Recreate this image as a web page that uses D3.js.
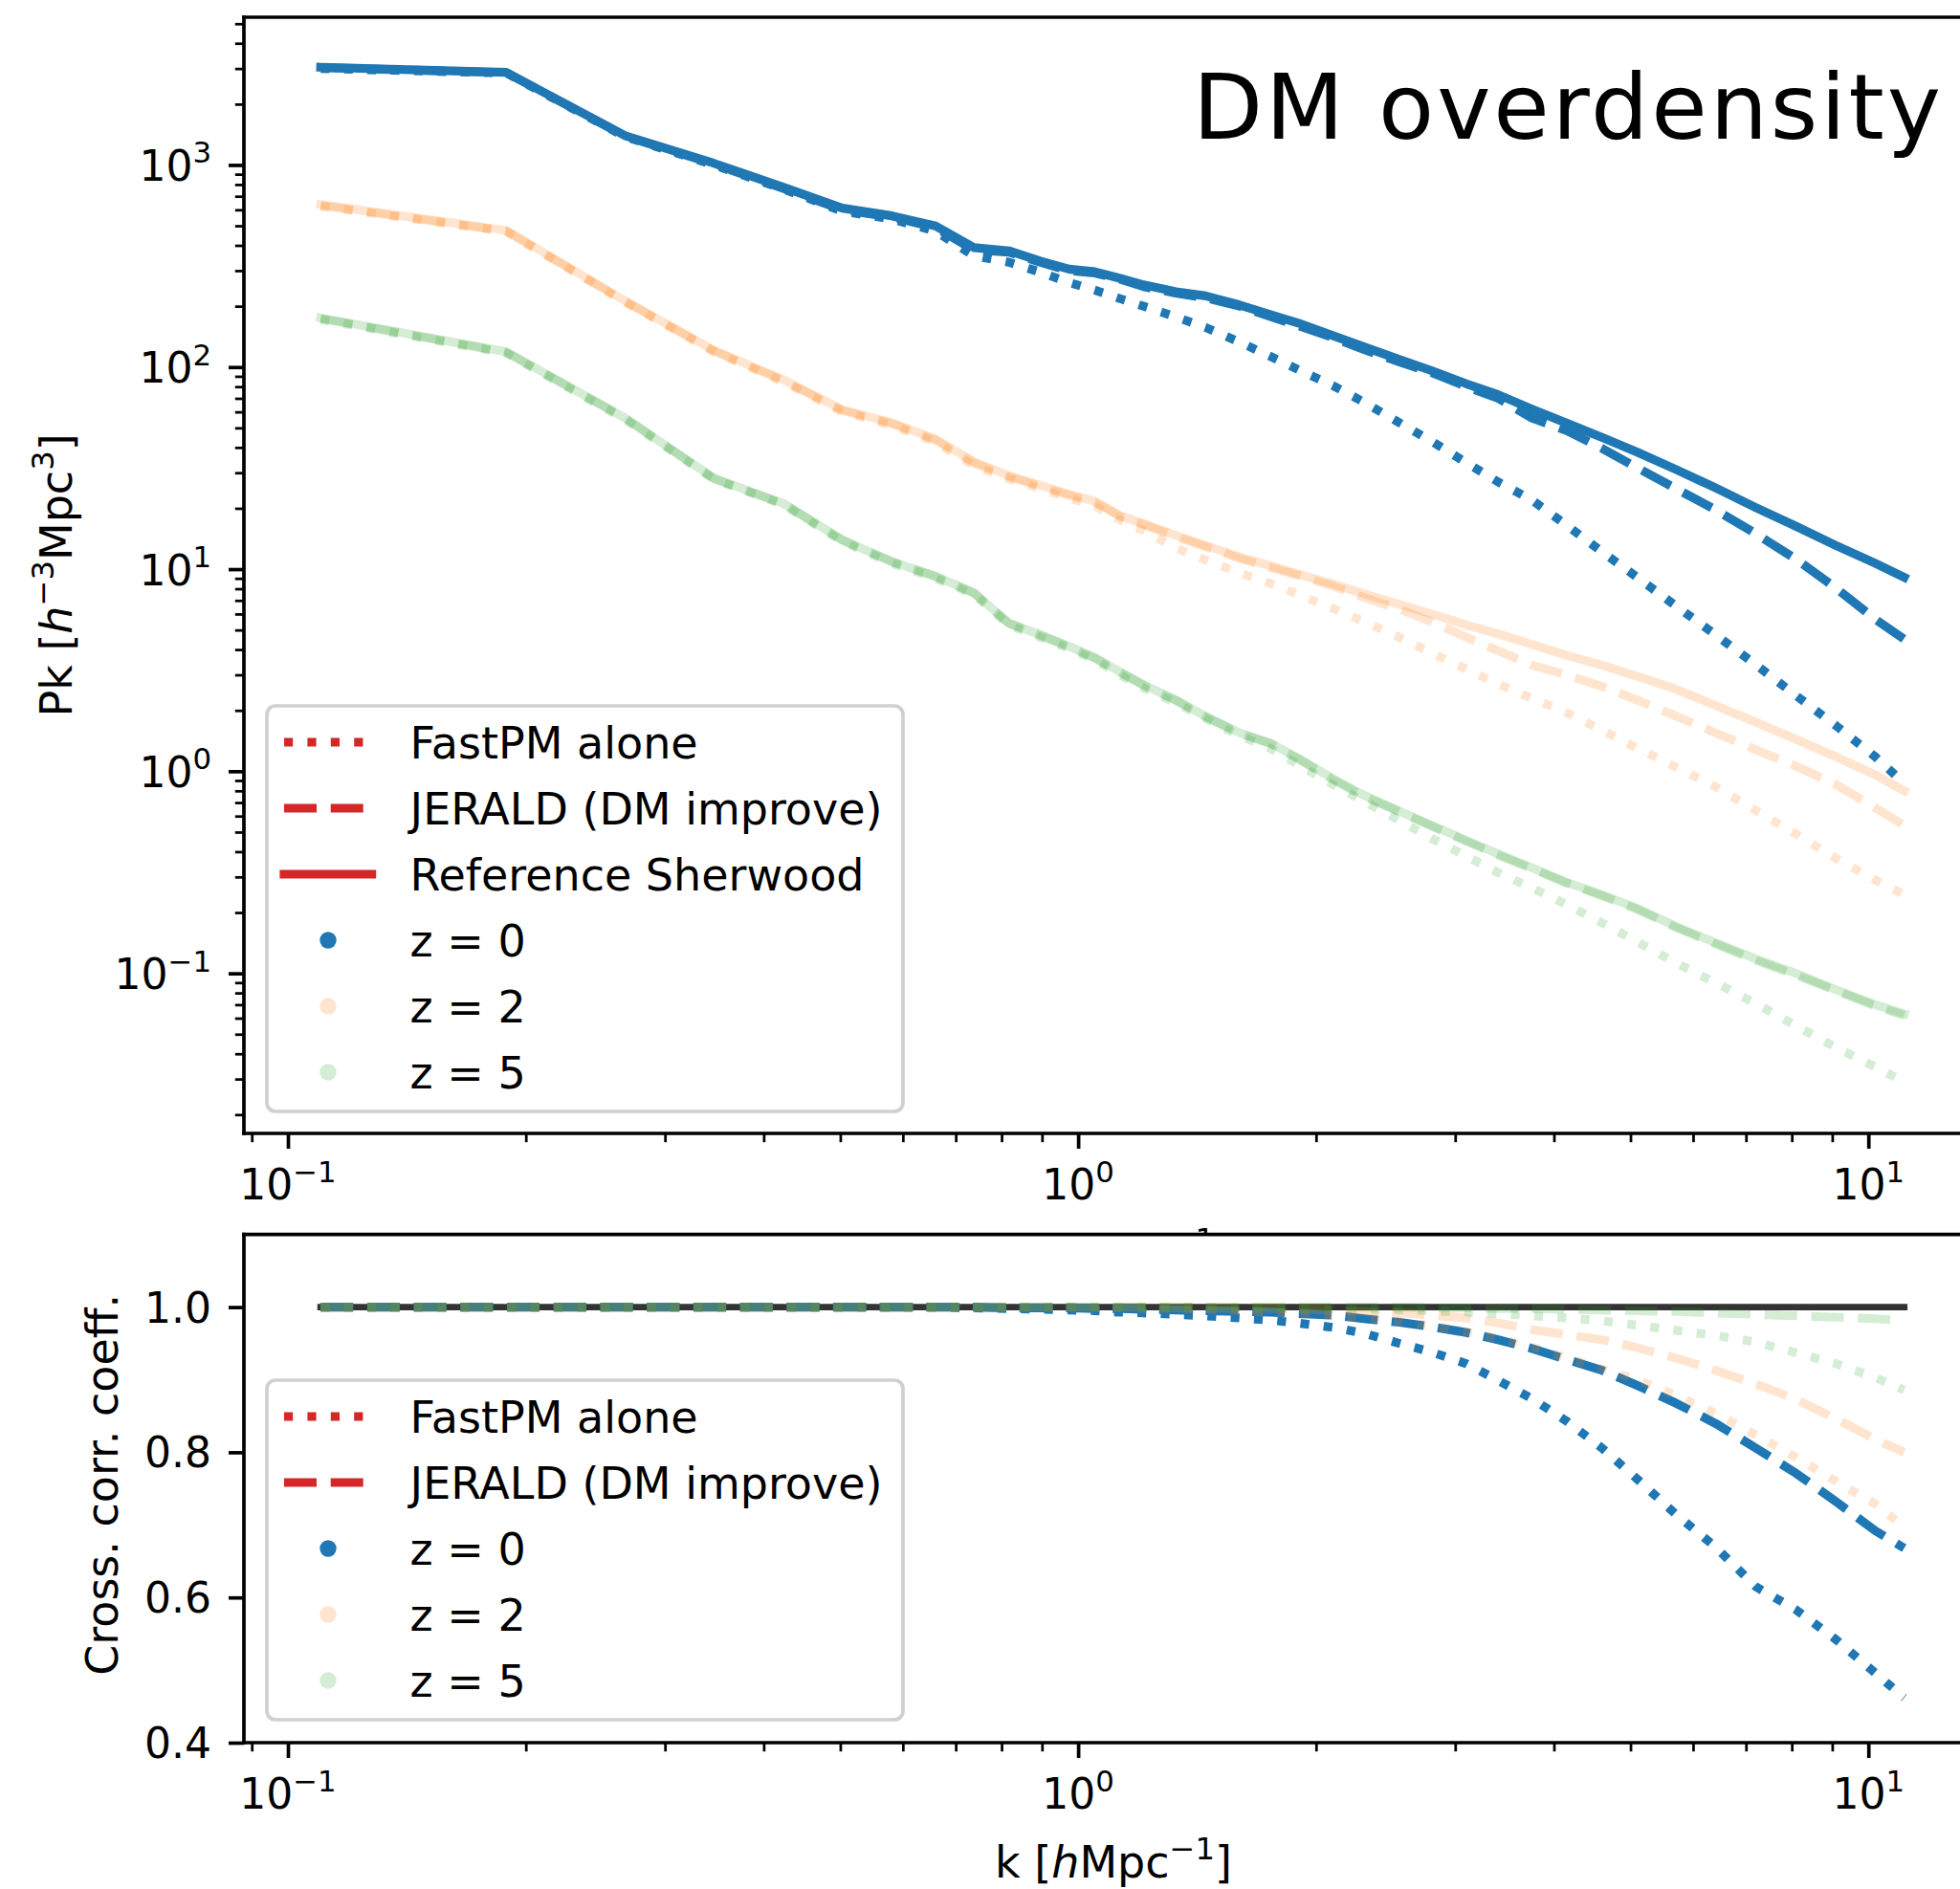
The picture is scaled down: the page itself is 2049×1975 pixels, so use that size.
<!DOCTYPE html>
<html><head><meta charset="utf-8">
<script src="https://cdn.jsdelivr.net/npm/d3@7"></script>
<style>body{margin:0;background:#fff} svg{display:block} text{font-family:"DejaVu Sans",sans-serif;fill:#000}</style>
</head><body><svg id="c" width="2049" height="1975"></svg>
<script>
// ---------------- DATA ----------------
const kBins = [0.110, 0.189, 0.267, 0.346, 0.424, 0.503, 0.581, 0.660, 0.738, 0.817, 0.895, 0.974, 1.05, 1.13, 1.21, 1.33, 1.45, 1.60, 1.75, 1.90, 2.10, 2.30, 2.55, 2.80, 3.10, 3.40, 3.75, 4.15, 4.60, 5.10, 5.70, 6.40, 7.20, 8.10, 9.10, 10.2, 11.1];

// Power spectra (h^-3 Mpc^3)
const pkRefZ0    = [3043, 2870, 1397, 1019, 774, 611, 560, 499, 390, 376, 335, 305, 296, 275, 255, 236, 225, 203, 182, 165, 143, 126, 109, 96, 82.6, 73, 62, 52.8, 44.9, 37.9, 31.2, 25.3, 20.2, 16.3, 13.1, 10.7, 9.1];
const pkJeraldZ0 = [3030, 2860, 1390, 1010, 765, 600, 552, 490, 380, 370, 330, 300, 292, 272, 250, 232, 220, 200, 178, 160, 140, 122, 106, 94, 80, 70, 56, 48.5, 39.6, 31.7, 25.1, 19.7, 15.0, 11.2, 8.05, 5.66, 4.5];
const pkFastpmZ0 = [3000, 2850, 1380, 1000, 760, 590, 540, 470, 355, 330, 295, 262, 240, 218, 200, 177, 157, 133, 113, 97, 81, 67, 53, 43, 33.6, 27, 22, 16.5, 12.2, 9.1, 6.6, 4.75, 3.37, 2.37, 1.68, 1.18, 0.87];

const pkRefZ2    = [637, 474, 213, 121, 86.5, 61.5, 53, 44, 34, 29, 26, 23.5, 21.7, 18.4, 16.8, 14.7, 13.1, 11.5, 10.4, 9.45, 8.45, 7.55, 6.7, 6.0, 5.3, 4.78, 4.25, 3.75, 3.35, 2.95, 2.55, 2.12, 1.75, 1.44, 1.18, 0.96, 0.80];
const pkJeraldZ2 = [630, 470, 211, 120, 85.5, 61, 52.5, 43.5, 33.5, 28.7, 25.7, 23.2, 21.4, 18.2, 16.6, 14.5, 12.9, 11.3, 10.2, 9.3, 8.25, 7.25, 6.35, 5.5, 4.6, 3.95, 3.35, 3.0, 2.63, 2.25, 1.88, 1.55, 1.28, 1.06, 0.86, 0.66, 0.54];
const pkFastpmZ2 = [625, 468, 210, 119, 84.5, 60, 51.5, 42.5, 32.5, 28, 25, 22.5, 20.5, 17.5, 15.5, 12.7, 11.1, 9.6, 8.5, 7.5, 6.4, 5.5, 4.6, 3.85, 3.2, 2.7, 2.3, 1.95, 1.6, 1.3, 1.05, 0.84, 0.64, 0.49, 0.37, 0.29, 0.245];

const pkRefZ5    = [175, 119, 56, 28.2, 21.1, 13.96, 10.9, 9.2, 7.67, 5.4, 4.75, 4.15, 3.65, 3.1, 2.68, 2.25, 1.87, 1.55, 1.38, 1.16, 0.92, 0.76, 0.635, 0.54, 0.455, 0.39, 0.333, 0.282, 0.245, 0.21, 0.171, 0.142, 0.118, 0.100, 0.083, 0.070, 0.063];
const pkJeraldZ5 = [174, 118, 56, 28, 21, 13.9, 10.9, 9.2, 7.6, 5.4, 4.7, 4.12, 3.62, 3.08, 2.66, 2.24, 1.86, 1.54, 1.37, 1.15, 0.91, 0.75, 0.63, 0.535, 0.45, 0.385, 0.33, 0.28, 0.242, 0.207, 0.169, 0.14, 0.116, 0.098, 0.082, 0.069, 0.062];
const pkFastpmZ5 = [172, 117, 55, 27.8, 20.8, 13.7, 10.7, 9.0, 7.5, 5.3, 4.6, 4.05, 3.55, 3.0, 2.58, 2.18, 1.82, 1.5, 1.3, 1.08, 0.86, 0.71, 0.57, 0.465, 0.38, 0.315, 0.265, 0.219, 0.178, 0.143, 0.113, 0.090, 0.071, 0.055, 0.043, 0.0345, 0.029];

// Cross-correlation coefficients
const rRef       = [1, 1, 1, 1, 1, 1, 1, 1, 1, 1, 1, 1, 1, 1, 1, 1, 1, 1, 1, 1, 1, 1, 1, 1, 1, 1, 1, 1, 1, 1, 1, 1, 1, 1, 1, 1, 1];
const rFastpmZ0  = [1, 1, 1, 1, 1, 1, 1, 1, 0.999, 0.998, 0.997, 0.996, 0.995, 0.993, 0.992, 0.990, 0.988, 0.985, 0.982, 0.978, 0.972, 0.964, 0.950, 0.938, 0.922, 0.899, 0.874, 0.843, 0.806, 0.763, 0.715, 0.670, 0.615, 0.583, 0.542, 0.496, 0.462];
const rJeraldZ0  = [1, 1, 1, 1, 1, 1, 1, 1, 1, 0.999, 0.999, 0.999, 0.998, 0.998, 0.997, 0.996, 0.995, 0.994, 0.993, 0.991, 0.989, 0.984, 0.979, 0.973, 0.965, 0.955, 0.943, 0.928, 0.913, 0.892, 0.868, 0.840, 0.806, 0.771, 0.732, 0.692, 0.668];
const rFastpmZ2  = [1, 1, 1, 1, 1, 1, 1, 1, 1, 1, 1, 1, 0.999, 0.999, 0.998, 0.998, 0.997, 0.995, 0.993, 0.991, 0.988, 0.985, 0.980, 0.974, 0.966, 0.957, 0.945, 0.930, 0.915, 0.900, 0.879, 0.854, 0.824, 0.793, 0.760, 0.729, 0.697];
const rJeraldZ2  = [1, 1, 1, 1, 1, 1, 1, 1, 1, 1, 1, 1, 1, 1, 1, 0.999, 0.999, 0.998, 0.998, 0.997, 0.996, 0.994, 0.992, 0.989, 0.985, 0.978, 0.969, 0.962, 0.955, 0.944, 0.930, 0.913, 0.894, 0.873, 0.846, 0.818, 0.800];
const rFastpmZ5  = [1, 1, 1, 1, 1, 1, 1, 1, 1, 1, 1, 1, 1, 1, 1, 1, 1, 0.999, 0.999, 0.998, 0.998, 0.997, 0.996, 0.995, 0.993, 0.991, 0.988, 0.985, 0.981, 0.975, 0.968, 0.961, 0.952, 0.937, 0.922, 0.903, 0.886];
const rJeraldZ5  = [1, 1, 1, 1, 1, 1, 1, 1, 1, 1, 1, 1, 1, 1, 1, 1, 1, 1, 1, 1, 1, 1, 1, 0.999, 0.999, 0.998, 0.998, 0.997, 0.996, 0.995, 0.994, 0.992, 0.990, 0.988, 0.986, 0.984, 0.982];

const redshiftLabels = ["z = 0", "z = 2", "z = 5"];
const methodLabels = ["FastPM alone", "JERALD (DM improve)", "Reference Sherwood"];
const xMajorTicks = [0.1, 1, 10];
const xMinorTicks = [0.09, 0.2, 0.3, 0.4, 0.5, 0.6, 0.7, 0.8, 0.9, 2, 3, 4, 5, 6, 7, 8, 9];
const yTopMajorTicks = [0.1, 1, 10, 100, 1000];
const yTopMinorTicks = [0.02,0.03,0.04,0.05,0.06,0.07,0.08,0.09,0.2,0.3,0.4,0.5,0.6,0.7,0.8,0.9,2,3,4,5,6,7,8,9,20,30,40,50,60,70,80,90,200,300,400,500,600,700,800,900,2000,3000,4000,5000];
const yBotTicks = [0.4, 0.6, 0.8, 1.0];
const yBotTickLabels = ["0.4", "0.6", "0.8", "1.0"];

// ---------------- STYLE ----------------
const zColors = ["#1f77b4", "#ff7f0e", "#2ca02c"];
const zAlpha = [1, 0.2, 0.2];
const LW = 9.2;
const dashes = { dotted: "9.2,15.2", dashed: "34,14.7", solid: null };
const FS_TICK = 44, FS_LAB = 46;

const svg = d3.select("#c");
svg.append("rect").attr("width", 2049).attr("height", 1975).attr("fill", "#fff");

const plotLeft = 255, plotRight = 2073;
const top1 = 18, bot1 = 1185, top2 = 1290.7, bot2 = 1822;
const x = d3.scaleLog().domain([Math.pow(10, -1.0557), Math.pow(10, 1.1450)]).range([plotLeft, plotRight]);
const y1 = d3.scaleLog().domain([Math.pow(10, -1.792), Math.pow(10, 3.731)]).range([bot1, top1]);
const y2 = d3.scaleLinear().domain([0.4, 1.1]).range([bot2, top2]);

const defs = svg.append("defs");
defs.append("clipPath").attr("id", "clip1").append("rect").attr("x", plotLeft).attr("y", top1).attr("width", plotRight - plotLeft).attr("height", bot1 - top1);
defs.append("clipPath").attr("id", "clip2").append("rect").attr("x", plotLeft).attr("y", top2).attr("width", plotRight - plotLeft).attr("height", bot2 - top2);

// helper: text with superscripts / italics
function richText(sel, parts, fs) {
  let pend = 0;
  parts.forEach(p => {
    const ts = sel.append("tspan");
    if (p.sup) {
      ts.attr("font-size", fs * 0.7).attr("dy", -fs * 0.42 + pend);
      pend = fs * 0.42;
    } else {
      if (pend) ts.attr("dy", pend);
      pend = 0;
      if (p.it) ts.attr("font-style", "italic");
    }
    ts.text(p.t);
  });
  return sel;
}
function powParts(v) {
  const e = Math.round(Math.log10(v));
  return [{ t: "10" }, { t: e < 0 ? "\u2212" + (-e) : String(e), sup: true }];
}

// ---------------- TOP PANEL ----------------
const g1 = svg.append("g");
const lineTop = d3.line().x((d, i) => x(kBins[i])).y(d => y1(d));
const topSeries = [
  [pkFastpmZ0, "dotted", 0], [pkJeraldZ0, "dashed", 0], [pkRefZ0, "solid", 0],
  [pkFastpmZ2, "dotted", 1], [pkJeraldZ2, "dashed", 1], [pkRefZ2, "solid", 1],
  [pkFastpmZ5, "dotted", 2], [pkJeraldZ5, "dashed", 2], [pkRefZ5, "solid", 2]
];
const linesTop = g1.append("g").attr("clip-path", "url(#clip1)");
topSeries.forEach(([vals, st, z]) => {
  linesTop.append("path").attr("d", lineTop(vals)).attr("fill", "none")
    .attr("stroke", zColors[z]).attr("stroke-opacity", zAlpha[z]).attr("stroke-width", LW)
    .attr("stroke-dasharray", dashes[st])
    .attr("stroke-linecap", st === "solid" ? "square" : "butt").attr("stroke-linejoin", "round");
});

function xTicks(g, yPos) {
  const a = g.append("g").attr("transform", `translate(0,${yPos})`)
    .call(d3.axisBottom(x).tickValues(xMajorTicks).tickSize(16).tickSizeOuter(0).tickFormat(() => ""));
  a.select(".domain").remove();
  a.selectAll("text").remove();
  a.selectAll("line").attr("stroke", "#000").attr("stroke-width", 3.7);
  const b = g.append("g").attr("transform", `translate(0,${yPos})`)
    .call(d3.axisBottom(x).tickValues(xMinorTicks).tickSize(9.2).tickSizeOuter(0).tickFormat(() => ""));
  b.select(".domain").remove();
  b.selectAll("text").remove();
  b.selectAll("line").attr("stroke", "#000").attr("stroke-width", 2.75);
  xMajorTicks.forEach(v => {
    const t = g.append("text").attr("x", x(v)).attr("y", yPos + 69).attr("text-anchor", "middle").attr("font-size", FS_TICK);
    richText(t, powParts(v), FS_TICK);
  });
}
function spines(g, t, b) {
  const s = g.append("g").attr("stroke", "#000").attr("stroke-width", 3.7).attr("stroke-linecap", "square");
  s.append("line").attr("x1", plotLeft).attr("x2", plotLeft).attr("y1", t).attr("y2", b);
  s.append("line").attr("x1", plotRight).attr("x2", plotRight).attr("y1", t).attr("y2", b);
  s.append("line").attr("x1", plotLeft).attr("x2", plotRight).attr("y1", t).attr("y2", t);
  s.append("line").attr("x1", plotLeft).attr("x2", plotRight).attr("y1", b).attr("y2", b);
}

// y axis top
{
  const a = g1.append("g").attr("transform", `translate(${plotLeft},0)`)
    .call(d3.axisLeft(y1).tickValues(yTopMajorTicks).tickSize(16).tickSizeOuter(0).tickFormat(() => ""));
  a.select(".domain").remove();
  a.selectAll("text").remove();
  a.selectAll("line").attr("stroke", "#000").attr("stroke-width", 3.7);
  const b = g1.append("g").attr("transform", `translate(${plotLeft},0)`)
    .call(d3.axisLeft(y1).tickValues(yTopMinorTicks).tickSize(9.2).tickSizeOuter(0).tickFormat(() => ""));
  b.select(".domain").remove();
  b.selectAll("text").remove();
  b.selectAll("line").attr("stroke", "#000").attr("stroke-width", 2.75);
  yTopMajorTicks.forEach(v => {
    const t = g1.append("text").attr("x", 221).attr("y", y1(v) + 16.5).attr("text-anchor", "end").attr("font-size", FS_TICK);
    richText(t, powParts(v), FS_TICK);
  });
}
xTicks(g1, bot1);

// Title (fit to the reference width)
{
  const t = g1.append("text").attr("x", 2029).attr("y", 145).attr("text-anchor", "end").attr("font-size", 95).text("DM overdensity");
  const w = t.node().getComputedTextLength();
  const target = 785;
  const ls = Math.max(0, (target - w) / 14);
  t.attr("letter-spacing", ls).attr("x", 2029 + ls);
}

// y label top
{
  const t = g1.append("text").attr("transform", `translate(75,${(top1 + bot1) / 2}) rotate(-90)`)
    .attr("text-anchor", "middle").attr("font-size", FS_LAB);
  richText(t, [{ t: "Pk [" }, { t: "h", it: true }, { t: "\u22123", sup: true }, { t: "Mpc" }, { t: "3", sup: true }, { t: "]" }], FS_LAB);
}
// top panel x label (mostly hidden behind the lower axes)
{
  const t = g1.append("text").attr("x", (plotLeft + plotRight) / 2).attr("y", bot1 + 141)
    .attr("text-anchor", "middle").attr("font-size", FS_LAB);
  richText(t, [{ t: "k [" }, { t: "h", it: true }, { t: "Mpc" }, { t: "\u22121", sup: true }, { t: "]" }], FS_LAB);
}

function legend(g, firstRowY, rows) {
  const step = 69;
  const n = rows.length;
  g.append("rect").attr("x", 279).attr("y", firstRowY - 38).attr("width", 665)
    .attr("height", (n - 1) * step + 79).attr("rx", 9)
    .attr("fill", "#fff").attr("fill-opacity", 0.8).attr("stroke", "#d0d0d0").attr("stroke-width", 3.7);
  rows.forEach((r, i) => {
    const yy = firstRowY + i * step;
    if (r.style) {
      g.append("line").attr("x1", 297).attr("x2", 388.6).attr("y1", yy).attr("y2", yy)
        .attr("stroke", "#d62728").attr("stroke-width", LW).attr("stroke-dasharray", dashes[r.style])
        .attr("stroke-linecap", r.style === "solid" ? "square" : "butt");
    } else {
      g.append("circle").attr("cx", 343).attr("cy", yy).attr("r", 8.7)
        .attr("fill", zColors[r.z]).attr("fill-opacity", zAlpha[r.z]);
    }
    g.append("text").attr("x", 428.6).attr("y", yy + 16.6).attr("font-size", FS_LAB).text(r.label);
  });
}
legend(g1, 776, [
  { style: "dotted", label: methodLabels[0] },
  { style: "dashed", label: methodLabels[1] },
  { style: "solid", label: methodLabels[2] },
  { z: 0, label: redshiftLabels[0] },
  { z: 1, label: redshiftLabels[1] },
  { z: 2, label: redshiftLabels[2] }
]);
spines(g1, top1, bot1);

// ---------------- BOTTOM PANEL ----------------
const g2 = svg.append("g");
g2.append("rect").attr("x", plotLeft).attr("y", top2).attr("width", plotRight - plotLeft).attr("height", bot2 - top2).attr("fill", "#fff");
const lineBot = d3.line().x((d, i) => x(kBins[i])).y(d => y2(d));
const linesBot = g2.append("g").attr("clip-path", "url(#clip2)");
linesBot.append("path").attr("d", lineBot(rRef)).attr("fill", "none").attr("stroke", "#333333")
  .attr("stroke-width", 6.9).attr("stroke-linecap", "square");
const botSeries = [
  [rFastpmZ0, "dotted", 0], [rJeraldZ0, "dashed", 0],
  [rFastpmZ2, "dotted", 1], [rJeraldZ2, "dashed", 1],
  [rFastpmZ5, "dotted", 2], [rJeraldZ5, "dashed", 2]
];
botSeries.forEach(([vals, st, z]) => {
  linesBot.append("path").attr("d", lineBot(vals)).attr("fill", "none")
    .attr("stroke", zColors[z]).attr("stroke-opacity", zAlpha[z]).attr("stroke-width", LW)
    .attr("stroke-dasharray", dashes[st]).attr("stroke-linecap", "butt").attr("stroke-linejoin", "round");
});
{
  const a = g2.append("g").attr("transform", `translate(${plotLeft},0)`)
    .call(d3.axisLeft(y2).tickValues(yBotTicks).tickSize(16).tickSizeOuter(0).tickFormat(() => ""));
  a.select(".domain").remove();
  a.selectAll("text").remove();
  a.selectAll("line").attr("stroke", "#000").attr("stroke-width", 3.7);
  yBotTicks.forEach((v, i) => {
    g2.append("text").attr("x", 221).attr("y", y2(v) + 16).attr("text-anchor", "end").attr("font-size", FS_TICK).text(yBotTickLabels[i]);
  });
}
xTicks(g2, bot2);
g2.append("text").attr("transform", `translate(123,${(top2 + bot2) / 2 - 4}) rotate(-90)`)
  .attr("text-anchor", "middle").attr("font-size", FS_LAB).text("Cross. corr. coeff.");
{
  const t = g2.append("text").attr("x", (plotLeft + plotRight) / 2).attr("y", bot2 + 141)
    .attr("text-anchor", "middle").attr("font-size", FS_LAB);
  richText(t, [{ t: "k [" }, { t: "h", it: true }, { t: "Mpc" }, { t: "\u22121", sup: true }, { t: "]" }], FS_LAB);
}
legend(g2, 1481, [
  { style: "dotted", label: methodLabels[0] },
  { style: "dashed", label: methodLabels[1] },
  { z: 0, label: redshiftLabels[0] },
  { z: 1, label: redshiftLabels[1] },
  { z: 2, label: redshiftLabels[2] }
]);
spines(g2, top2, bot2);
</script></body></html>
